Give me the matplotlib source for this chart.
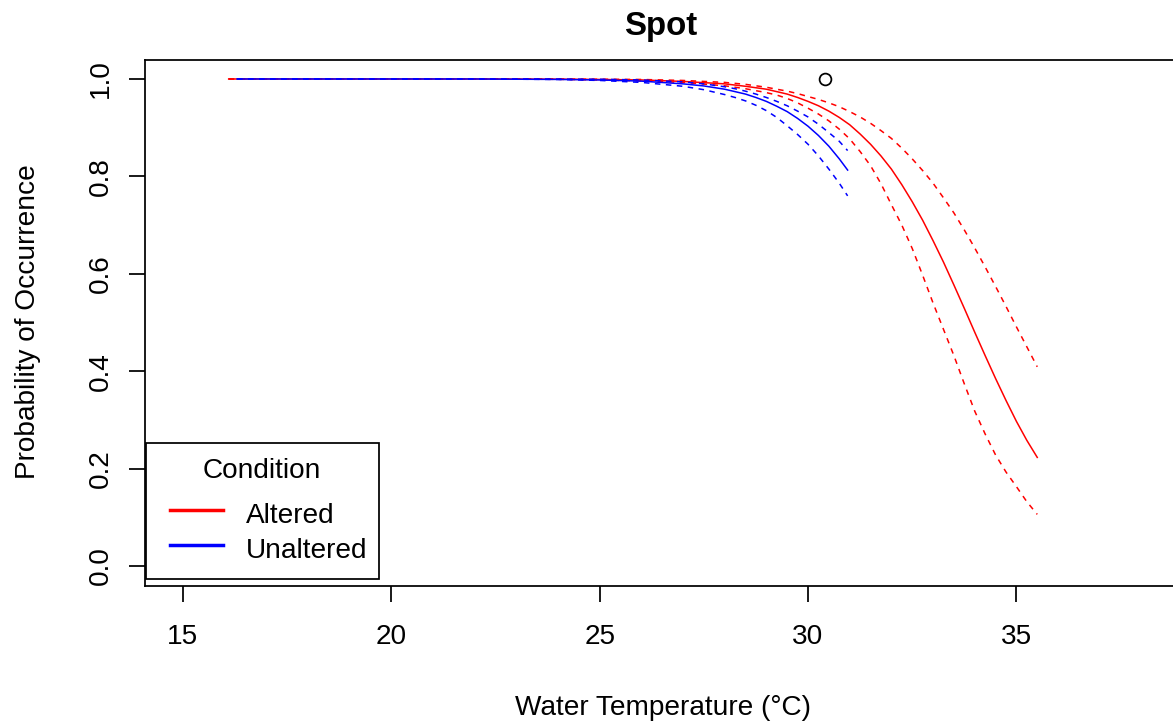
import matplotlib
matplotlib.use("Agg")
import matplotlib.pyplot as plt
from matplotlib.lines import Line2D
from matplotlib.patches import Rectangle

plt.rcParams["font.family"] = ["Liberation Sans", "DejaVu Sans"]

# ---- fitted occurrence curves (with 95% bands) ----
altered_temp = [16.1, 18, 20, 22, 24, 25, 26, 27, 28, 28.5, 29, 29.25, 29.5,
                29.75, 30, 30.25, 30.5, 30.75, 31, 31.25, 31.5, 31.75, 32,
                32.25, 32.5, 32.75, 33, 33.25, 33.5, 33.75, 34, 34.25, 34.5,
                34.75, 35, 35.25, 35.5]
altered_fit = [1.0, 1.0, 1.0, 1.0, 0.9996, 0.999, 0.998, 0.995, 0.990, 0.985,
               0.979, 0.974, 0.969, 0.962, 0.954, 0.945, 0.934, 0.921, 0.906,
               0.887, 0.866, 0.842, 0.815, 0.783, 0.748, 0.710, 0.668, 0.624,
               0.577, 0.529, 0.480, 0.432, 0.385, 0.340, 0.297, 0.258, 0.223]
altered_upper = [1.0, 1.0, 1.0, 1.0, 0.9998, 0.9995, 0.999, 0.997, 0.993,
                 0.989, 0.983, 0.979, 0.975, 0.970, 0.964, 0.958, 0.951, 0.943,
                 0.933, 0.922, 0.909, 0.894, 0.878, 0.858, 0.836, 0.812, 0.786,
                 0.756, 0.725, 0.690, 0.653, 0.614, 0.574, 0.533, 0.491, 0.450,
                 0.409]
altered_lower = [1.0, 1.0, 1.0, 1.0, 0.9993, 0.998, 0.996, 0.993, 0.986,
                 0.980, 0.972, 0.967, 0.960, 0.951, 0.940, 0.928, 0.914, 0.897,
                 0.877, 0.851, 0.822, 0.785, 0.742, 0.700, 0.652, 0.597, 0.540,
                 0.486, 0.432, 0.374, 0.318, 0.271, 0.228, 0.193, 0.163, 0.132,
                 0.106]

unaltered_temp = [16.3, 18, 20, 22, 24, 25, 26, 27, 27.5, 28, 28.25, 28.5,
                  28.75, 29, 29.25, 29.5, 29.75, 30, 30.25, 30.5, 30.75, 30.95]
unaltered_fit = [1.0, 1.0, 1.0, 1.0, 0.9991, 0.998, 0.9956, 0.990, 0.9857,
                 0.979, 0.974, 0.969, 0.962, 0.954, 0.944, 0.933, 0.919, 0.903,
                 0.884, 0.862, 0.836, 0.813]
unaltered_upper = [1.0, 1.0, 1.0, 1.0, 0.9997, 0.9995, 0.998, 0.994, 0.990,
                   0.984, 0.980, 0.975, 0.969, 0.962, 0.954, 0.945, 0.934,
                   0.922, 0.907, 0.890, 0.872, 0.853]
unaltered_lower = [1.0, 1.0, 1.0, 1.0, 0.999, 0.997, 0.993, 0.985, 0.978,
                   0.968, 0.962, 0.955, 0.946, 0.935, 0.921, 0.904, 0.886,
                   0.866, 0.842, 0.815, 0.786, 0.760]

# single observed point
obs_temp = [30.4]
obs_prob = [1.0]

x_ticks = [15, 20, 25, 30, 35]
y_ticks = [0.0, 0.2, 0.4, 0.6, 0.8, 1.0]
y_tick_labels = ["0.0", "0.2", "0.4", "0.6", "0.8", "1.0"]
legend_labels = ["Altered", "Unaltered"]
legend_colors = ["#FF0000", "#0000FF"]

# ---- figure layout (pixel based) ----
W, H = 1173, 726
fig = plt.figure(figsize=(W / 100, H / 100), dpi=100)


def fx(px):
    return px / W


def fy(py):
    return 1 - py / H


ax_left, ax_right, ax_top, ax_bottom = 144.5, 1179.8, 59.5, 585.5
ax = fig.add_axes([fx(ax_left), fy(ax_bottom),
                   (ax_right - ax_left) / W, (ax_bottom - ax_top) / H])

LW = 1.1
FRAME_LW = 1.26
FS = 20.2
dash = (0, (3.6, 3.6))

ax.plot(altered_temp, altered_fit, color="#FF0000", lw=LW)
ax.plot(altered_temp, altered_upper, color="#FF0000", lw=LW, linestyle=dash)
ax.plot(altered_temp, altered_lower, color="#FF0000", lw=LW, linestyle=dash)
ax.plot(unaltered_temp, unaltered_fit, color="#0000FF", lw=LW)
ax.plot(unaltered_temp, unaltered_upper, color="#0000FF", lw=LW, linestyle=dash)
ax.plot(unaltered_temp, unaltered_lower, color="#0000FF", lw=LW, linestyle=dash)
ax.plot(obs_temp, obs_prob, linestyle="none", marker="o", markersize=8.5,
        markerfacecolor="none", markeredgecolor="black", markeredgewidth=FRAME_LW)

ax.set_xlim(14.08, 38.92)
ax.set_ylim(-0.04, 1.04)
ax.set_xticks(x_ticks)
ax.set_yticks(y_ticks, labels=y_tick_labels)
for s in ax.spines.values():
    s.set_linewidth(FRAME_LW)
    s.set_color("black")

ax.tick_params(axis="both", direction="out", length=11.5, width=FRAME_LW,
               labelsize=FS, colors="black")
ax.tick_params(axis="x", pad=30.6)
ax.tick_params(axis="y", pad=14.8)
for lbl in ax.get_xticklabels():
    lbl.set_va("baseline")
for lbl in ax.get_yticklabels():
    lbl.set_rotation(90)
    lbl.set_rotation_mode("anchor")
    lbl.set_ha("center")
    lbl.set_va("baseline")

ax.set_xlabel("Water Temperature (°C)", fontsize=FS)
ax.xaxis.set_label_coords(fx(663), fy(715), transform=fig.transFigure)
ax.xaxis.label.set_va("baseline")
ax.xaxis.label.set_ha("center")

ax.set_ylabel("Probability of Occurrence", fontsize=FS)
ax.yaxis.set_label_coords(fx(35), fy(322), transform=fig.transFigure)
ax.yaxis.label.set_rotation_mode("anchor")
ax.yaxis.label.set_ha("center")
ax.yaxis.label.set_va("baseline")

fig.text(fx(661), fy(35), "Spot", ha="center", va="baseline",
         fontsize=23.8, fontweight="bold")

# ---- legend box ----
fig.add_artist(Rectangle((fx(145.5), fy(579)), (379 - 145.5) / W, (579 - 443) / H,
                         transform=fig.transFigure, facecolor="white",
                         edgecolor="black", lw=FRAME_LW, zorder=5))
fig.text(fx(262), fy(478), "Condition", ha="center", va="baseline",
         fontsize=FS, zorder=6)
for i, (lab, col) in enumerate(zip(legend_labels, legend_colors)):
    yline = 510 + 35 * i
    fig.add_artist(Line2D([fx(170), fx(223)], [fy(yline), fy(yline)],
                          transform=fig.transFigure, color=col, lw=2.5,
                          zorder=6))
    fig.text(fx(246), fy(523 + 35 * i), lab, ha="left", va="baseline",
             fontsize=FS, zorder=6)

fig.savefig("out.png", dpi=100)
